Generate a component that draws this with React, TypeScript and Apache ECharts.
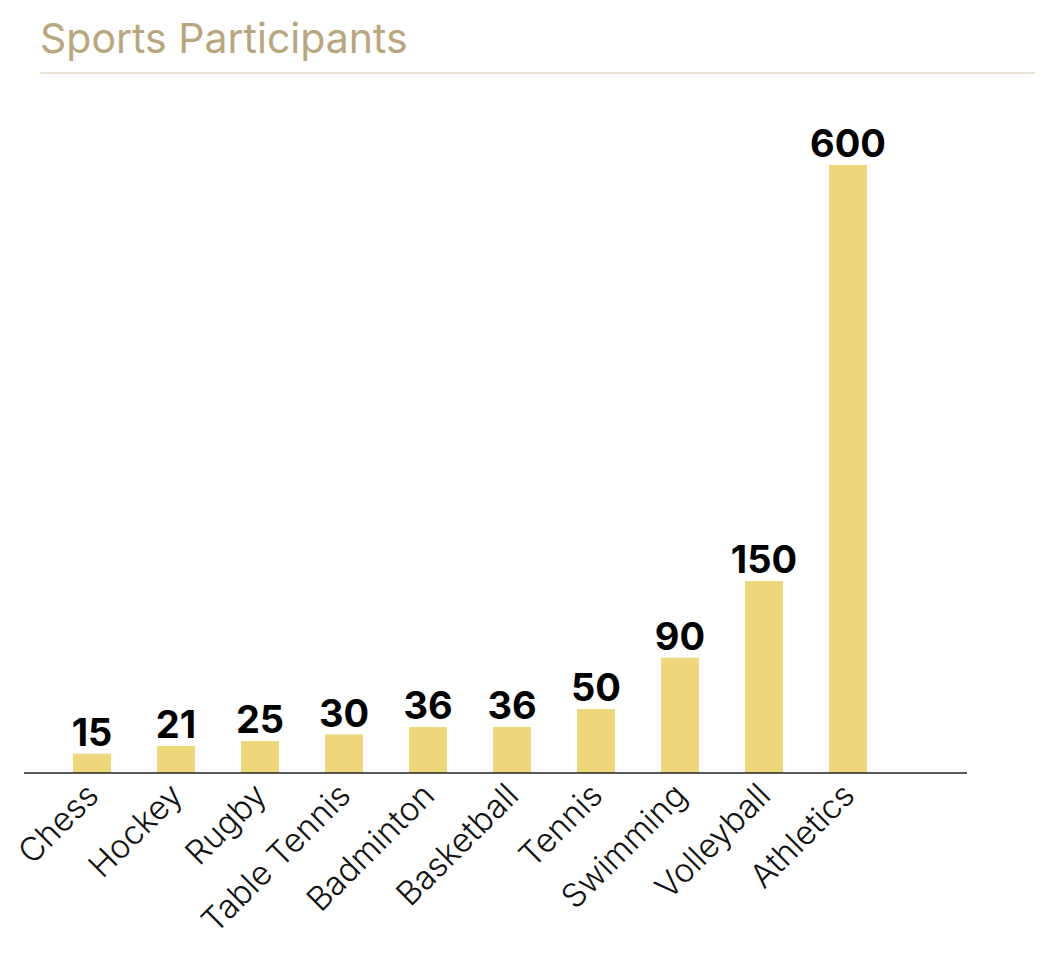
import * as echarts from "echarts";
import React, { useEffect, useRef } from "react";

const categories = [
	"Chess",
	"Hockey",
	"Rugby",
	"Table Tennis",
	"Badminton",
	"Basketball",
	"Tennis",
	"Swimming",
	"Volleyball",
	"Athletics",
];
const participants = [15, 21, 25, 30, 36, 36, 50, 90, 150, 600];

const FONT = "Inter, 'Noto Sans', sans-serif";

export default function App() {
	const $chart = useRef<HTMLDivElement>(null);

	useEffect(() => {
		const chart = echarts.init($chart.current, null, { renderer: "svg" });
		chart.setOption({
			animation: false,
			backgroundColor: "#ffffff",
			title: {
				text: "Sports Participants",
				left: 35,
				top: 12,
				textStyle: {
					fontFamily: FONT,
					fontSize: 41,
					fontWeight: "normal",
					color: "#b9a67f",
				},
			},
			graphic: [
				{
					type: "line",
					shape: { x1: 40, y1: 73, x2: 1035, y2: 73 },
					style: { stroke: "#d3c6ac", lineWidth: 1 },
				},
				{
					type: "line",
					shape: { x1: 24, y1: 773, x2: 967, y2: 773 },
					style: { stroke: "#222222", lineWidth: 1.5 },
					z: 10,
				},
			],
			grid: { left: 50, width: 840, top: 165, height: 608 },
			xAxis: {
				type: "category",
				data: categories,
				axisLine: { show: false },
				axisTick: { show: false },
				axisLabel: {
					rotate: 45,
					margin: 16,
					interval: 0,
					fontFamily: FONT,
					fontSize: 33,
					fontWeight: 300,
					color: "#111111",
				},
			},
			yAxis: {
				type: "value",
				min: 0,
				max: 475,
				show: false,
				splitLine: { show: false },
			},
			series: [
				{
					type: "bar",
					data: participants,
					barWidth: 38,
					clip: true,
					itemStyle: { color: "#eed77b" },
					label: {
						show: true,
						position: "top",
						distance: 3,
						fontFamily: FONT,
						fontSize: 38,
						fontWeight: "bold",
						color: "#000000",
					},
				},
			],
		});
		return () => chart.dispose();
	}, []);

	return (
		<div
			ref={$chart}
			style={{ position: "fixed", left: 0, top: 0, width: 1059, height: 965 }}
		/>
	);
}
